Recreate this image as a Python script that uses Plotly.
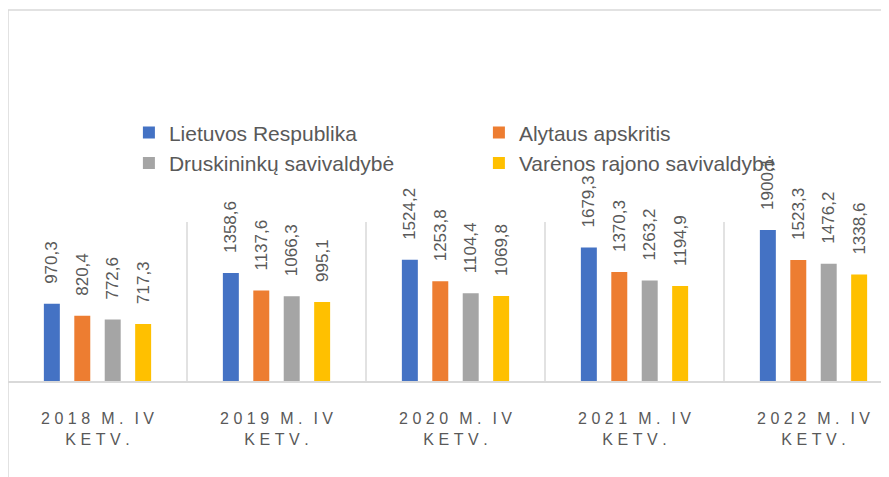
import plotly.graph_objects as go

categories = ["2018 M. IV KETV.", "2019 M. IV KETV.", "2020 M. IV KETV.", "2021 M. IV KETV.", "2022 M. IV KETV."]
series_names = ["Lietuvos Respublika", "Alytaus apskritis", "Druskininkų savivaldybė", "Varėnos rajono savivaldybė"]
lietuvos = [970.3, 1358.6, 1524.2, 1679.3, 1900.1]
alytaus = [820.4, 1137.6, 1253.8, 1370.3, 1523.3]
druskininku = [772.6, 1066.3, 1104.4, 1263.2, 1476.2]
varenos = [717.3, 995.1, 1069.8, 1194.9, 1338.6]
colors = ["#4472C4", "#ED7D31", "#A5A5A5", "#FFC000"]

def spaced(s):
    words = s.split(" ")
    return "\u2009\u2009\u2009\u200a".join("\u2009\u200a".join(w) for w in words)

tick_text = []
for c in categories:
    first, second = c.rsplit(" ", 1)
    tick_text.append(spaced(first) + "<br>" + spaced(second))

def fmt(v):
    return "\u2003" + f"{v:.1f}".replace(".", ",")

fig = go.Figure()
for name, vals, col in zip(series_names, [lietuvos, alytaus, druskininku, varenos], colors):
    fig.add_trace(go.Bar(
        x=list(range(len(categories))), y=vals, name=name,
        marker=dict(color=col, line=dict(width=0)),
        text=[fmt(v) for v in vals], textposition="outside", textangle=-90,
        constraintext="none",
        textfont=dict(size=17, color="#595959", family="Liberation Sans"),
        cliponaxis=False,
    ))

plot_w = 889
cat_px = 179
fig.update_layout(
    width=889, height=477,
    margin=dict(l=0, r=0, t=214, b=104),
    paper_bgcolor="white", plot_bgcolor="white",
    barmode="group", bargap=0.32, bargroupgap=0.475,
    font=dict(family="Liberation Sans", color="#595959"),
    showlegend=True,
    legend=dict(orientation="h", x=0.136, xanchor="left", y=1.689, yanchor="top",
                entrywidth=305, font=dict(size=21, color="#595959"),
                bgcolor="rgba(0,0,0,0)"),
    xaxis=dict(range=[-0.5, -0.5 + plot_w / cat_px], tickmode="array",
               tickvals=list(range(len(categories))), ticktext=tick_text,
               showgrid=False, zeroline=False, showline=True, linecolor="#d9d9d9", linewidth=1.5,
               ticks="", ticklabelstandoff=22, tickfont=dict(size=16, color="#595959"), fixedrange=True),
    yaxis=dict(range=[0, 2000], visible=False, showgrid=False, fixedrange=True),
)

shapes = []
for i in range(len(categories)):
    shapes.append(dict(type="line", xref="x", yref="paper", x0=i + 0.5, x1=i + 0.5, y0=0, y1=1,
                       line=dict(color="#d9d9d9", width=1.5), layer="below"))
top_y = (381 - 10) / 159
shapes.append(dict(type="line", xref="paper", yref="paper", x0=0, x1=0, y0=-104 / 159, y1=top_y,
                   line=dict(color="#d9d9d9", width=1.5)))
shapes.append(dict(type="line", xref="paper", yref="paper", x0=0, x1=1, y0=top_y, y1=top_y,
                   line=dict(color="#d9d9d9", width=1.5)))
fig.update_layout(shapes=shapes)

fig.write_html("out.html", config={"displayModeBar": False})
